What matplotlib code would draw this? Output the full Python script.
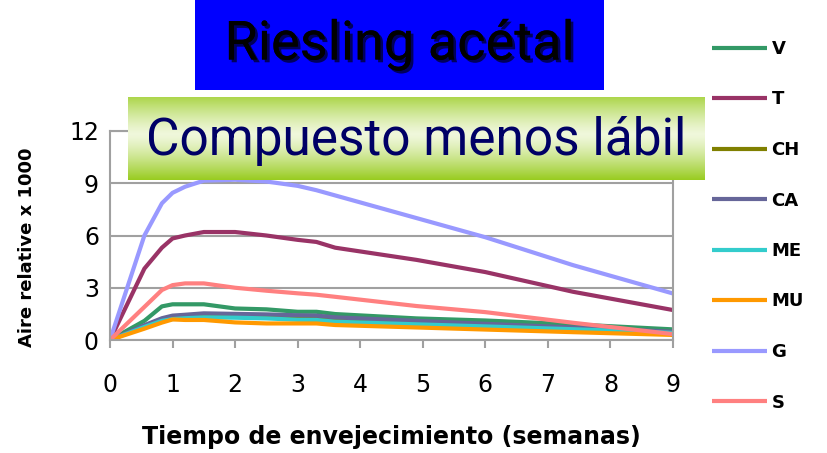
"""
Riesling acetal - compuesto menos labil
"""

import matplotlib
matplotlib.use("Agg")
import matplotlib.pyplot as plt
import matplotlib.patheffects as pe
import numpy as np

# weeks of ageing
weeks = [0, 0.55, 0.83, 1.0, 1.2, 1.5, 2.0, 2.5, 3.0, 3.3, 3.6, 4.9, 6.0, 7.4, 9.0]

V = [0, 1.1, 1.93, 2.05, 2.05, 2.05, 1.81, 1.76, 1.62, 1.62, 1.49, 1.24, 1.12, 0.9, 0.61]
T = [0, 4.1, 5.3, 5.83, 6.0, 6.2, 6.2, 6.0, 5.75, 5.63, 5.3, 4.6, 3.9, 2.77, 1.72]
CH = [0, 0.8, 1.15, 1.3, 1.35, 1.4, 1.38, 1.35, 1.28, 1.27, 1.18, 1.0, 0.85, 0.66, 0.45]
CA = [0, 0.85, 1.25, 1.4, 1.45, 1.53, 1.5, 1.47, 1.42, 1.4, 1.3, 1.1, 0.93, 0.72, 0.48]
ME = [0, 0.75, 1.1, 1.2, 1.25, 1.3, 1.28, 1.24, 1.16, 1.15, 1.05, 0.9, 0.78, 0.62, 0.41]
MU = [0, 0.65, 1.0, 1.18, 1.15, 1.15, 1.01, 0.95, 0.95, 0.95, 0.86, 0.72, 0.6, 0.45, 0.29]
G = [0, 6.0, 7.85, 8.45, 8.8, 9.15, 9.2, 9.1, 8.85, 8.6, 8.3, 7.0, 5.9, 4.3, 2.67]
S = [0, 1.9, 2.87, 3.15, 3.25, 3.25, 3.0, 2.83, 2.68, 2.6, 2.48, 1.95, 1.6, 0.99, 0.34]

names = ["V", "T", "CH", "CA", "ME", "MU", "G", "S"]
series = [V, T, CH, CA, ME, MU, G, S]
colors = ["#339966", "#993366", "#808000", "#666699", "#33CCCC", "#FF9900", "#9999FF", "#FF8080"]

x_ticks = list(range(10))
y_ticks = [0, 3, 6, 9, 12]

W, H = 827, 453


def fig_box(x0, y0, x1, y1):
    # pixel box (top-left origin) -> figure fraction rect
    return [x0 / W, 1 - y1 / H, (x1 - x0) / W, (y1 - y0) / H]


def main():
    fig = plt.figure(figsize=(W / 100, H / 100), dpi=100)
    fig.patch.set_facecolor("white")

    ax = fig.add_axes(fig_box(110, 131, 673, 340))
    for name, vals, c in zip(names, series, colors):
        ax.plot(weeks, vals, color=c, lw=3, label=name, solid_capstyle="butt")

    ax.set_xlim(0, 9)
    ax.set_ylim(0, 12)
    ax.set_xticks(x_ticks)
    ax.set_yticks(y_ticks)
    ax.grid(axis="y", color="#A0A0A0", lw=1.5)
    ax.set_axisbelow(True)
    for s in ax.spines.values():
        s.set_color("#A0A0A0")
        s.set_linewidth(1.5)
    ax.tick_params(axis="x", direction="out", length=6, width=1.5, color="#A0A0A0",
                   pad=18, labelsize=17)
    ax.tick_params(axis="y", length=0, pad=8, labelsize=17)

    ax.set_xlabel("Tiempo de envejecimiento (semanas)", fontsize=17, fontweight="bold", labelpad=20)
    ax.set_ylabel("Aire relative x 1000", fontsize=13, fontweight="bold")
    ax.yaxis.set_label_coords(-0.132, 0.445)

    ax.legend(loc="upper left", bbox_to_anchor=(712 / W, 1 - 40 / H),
              bbox_transform=fig.transFigure, frameon=False, handlelength=3.05,
              handletextpad=0.25, labelspacing=1.8, borderpad=0, borderaxespad=0,
              prop={"weight": "bold", "size": 13})

    # blue title box
    tb = fig.add_axes(fig_box(195, 0, 604, 90))
    tb.set_facecolor("#0000FF")
    tb.set_xticks([])
    tb.set_yticks([])
    for s in tb.spines.values():
        s.set_visible(False)
    tb.text(0.5, 0.5, "Riesling acétal", ha="center", va="center", fontsize=39,
            family=["Roboto", "DejaVu Sans"], color="black",
            path_effects=[pe.withSimplePatchShadow(offset=(2, -2), shadow_rgbFace="#000033", alpha=0.8),
                          pe.Normal()])

    # green gradient box
    gb = fig.add_axes(fig_box(128, 97, 705, 180))
    t = np.linspace(0, 1, 100)
    light = np.array([0.94, 0.97, 0.86])
    dark = np.array([0.60, 0.80, 0.13])
    k = np.clip(np.abs(t - 0.45) / 0.55, 0, 1) ** 1.3
    grad = (light[None, :] * (1 - k[:, None]) + dark[None, :] * k[:, None])
    gb.imshow(np.repeat(grad[:, None, :], 2, axis=1), aspect="auto", extent=(0, 1, 0, 1))
    gb.set_xticks([])
    gb.set_yticks([])
    for s in gb.spines.values():
        s.set_visible(False)
    gb.text(0.5, 0.47, "Compuesto menos lábil", ha="center", va="center", fontsize=37,
            family=["Roboto", "DejaVu Sans"], color="#000066")

    fig.savefig("out.png", dpi=100)


if __name__ == "__main__":
    main()
